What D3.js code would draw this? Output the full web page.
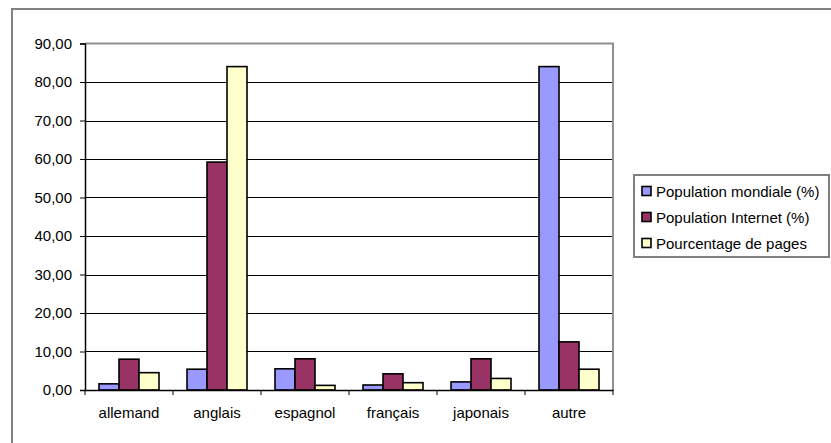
<!DOCTYPE html>
<html><head><meta charset="utf-8">
<script src="https://cdn.jsdelivr.net/npm/d3@7"></script>
<style>body{margin:0;background:#fff}svg{display:block}text{font-family:Arial,"Liberation Sans",sans-serif;}</style>
</head><body><svg id="c" width="831" height="443"></svg>
<script>
const categories = ["allemand","anglais","espagnol","français","japonais","autre"];
const seriesNames = ["Population mondiale (%)","Population Internet (%)","Pourcentage de pages"];
const popMondiale = [1.6, 5.4, 5.5, 1.3, 2.1, 84.0];
const popInternet = [8.0, 59.2, 8.1, 4.2, 8.1, 12.5];
const pctPages = [4.5, 84.0, 1.2, 1.9, 3.0, 5.4];
const yTicks = [0,10,20,30,40,50,60,70,80,90];
const colors = ["#9999FF","#993366","#FFFFCC"];

const series = [popMondiale, popInternet, pctPages];
const FS = 15;
const svg = d3.select("#c");
svg.append("rect").attr("x",12).attr("y",9).attr("width",830).attr("height",450)
  .attr("fill","#fff").attr("stroke","#808080").attr("stroke-width",2);

const x0 = d3.scaleBand().domain(categories).range([85,613]).paddingInner(0).paddingOuter(0);
const x1 = d3.scaleBand().domain(d3.range(3)).range([14, 74]);
const y = d3.scaleLinear().domain([0,90]).range([390,43.5]);

const g = svg.append("g");
g.selectAll("line.grid").data(yTicks.filter(t=>t>0 && t<90)).join("line")
  .attr("x1",85).attr("x2",613).attr("y1",d=>Math.round(y(d))+0.5).attr("y2",d=>Math.round(y(d))+0.5)
  .attr("stroke","#000").attr("stroke-width",1);
g.append("path").attr("d",`M85,${y(90)}H613V390`).attr("fill","none").attr("stroke","#909090").attr("stroke-width",2);

categories.forEach((c,i)=>{
  series.forEach((s,j)=>{
    g.append("rect")
      .attr("x", x0(c)+x1(j)).attr("width", x1.bandwidth())
      .attr("y", y(s[i])).attr("height", y(0)-y(s[i]))
      .attr("fill", colors[j]).attr("stroke","#000").attr("stroke-width",1.6);
  });
});

const yAxis = d3.axisLeft(y).tickValues(yTicks).tickSize(5).tickPadding(8)
  .tickFormat(d=>d3.format(".2f")(d).replace(".",","));
const ya = svg.append("g").attr("transform","translate(85,0)").call(yAxis);
ya.select(".domain").attr("stroke","#000").attr("stroke-width",1.5);
ya.selectAll("text").attr("font-size",FS).attr("fill","#000").attr("font-family","Arial, 'Liberation Sans', sans-serif");

const xAxis = d3.axisBottom(x0).tickSize(0).tickPadding(17);
const xa = svg.append("g").attr("transform","translate(0,390)").call(xAxis);
xa.select(".domain").attr("stroke","#000").attr("stroke-width",1.5);
xa.selectAll("text").attr("font-size",FS).attr("fill","#000").attr("font-family","Arial, 'Liberation Sans', sans-serif");
svg.append("g").selectAll("line").data(d3.range(categories.length+1)).join("line")
  .attr("x1",d=>85+d*x0.bandwidth()).attr("x2",d=>85+d*x0.bandwidth())
  .attr("y1",390).attr("y2",395).attr("stroke","#000").attr("stroke-width",1);

const lg = svg.append("g");
lg.append("rect").attr("x",634).attr("y",175).attr("width",195).attr("height",82)
  .attr("fill","#fff").attr("stroke","#808080").attr("stroke-width",2);
seriesNames.forEach((n,j)=>{
  const cy = 191 + j*26;
  lg.append("rect").attr("x",642).attr("y",cy-4.5).attr("width",9).attr("height",9)
    .attr("fill",colors[j]).attr("stroke","#000").attr("stroke-width",1.6);
  lg.append("text").attr("x",656).attr("y",cy+5.5).attr("font-size",FS).attr("fill","#000").text(n);
});
</script></body></html>
